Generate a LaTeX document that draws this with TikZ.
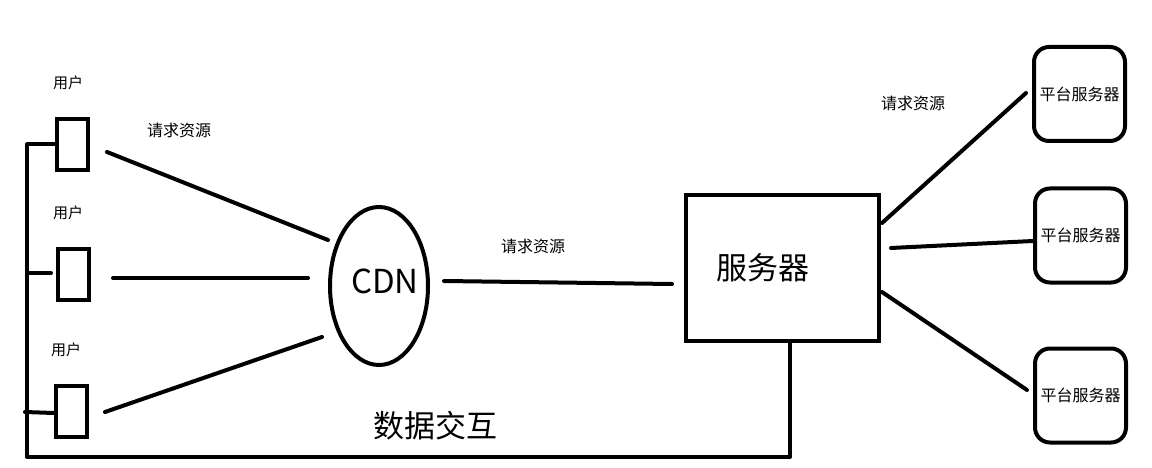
\documentclass[tikz,border=0pt]{standalone}
\usepackage{fontspec}
\setmainfont{Noto Sans CJK SC}
\usetikzlibrary{calc,shapes.geometric}
\begin{document}
\begin{tikzpicture}[x=1pt,y=-1pt,
  wire/.style={line width=4pt, line cap=round, line join=round},
  userbox/.style={draw, line width=4pt, minimum width=31pt, minimum height=51pt, inner sep=0pt},
  platbox/.style={draw, line width=4pt, rounded corners=15pt, minimum width=91pt, minimum height=94pt, inner sep=0pt,
    font=\fontsize{16}{18}\selectfont},
  small/.style={font=\fontsize{15}{17}\selectfont, inner sep=0pt},
  req/.style={font=\fontsize{16}{18}\selectfont, inner sep=0pt},
  big/.style={font=\fontsize{31}{34}\selectfont, inner sep=0pt}
]
\useasboundingbox (0,0) rectangle (1152,468);

% users
\node[userbox] (u1) at (72.5,144.5) {};
\node[userbox] (u2) at (73.5,274.5) {};
\node[userbox] (u3) at (71.5,411) {};
\node[small] (l1) at (68,83) {用户};
\node[small] (l2) at (68,213) {用户};
\node[small] (l3) at (66,350) {用户};

% CDN
\node[draw, ellipse, line width=4pt, minimum width=98pt, minimum height=158pt, inner sep=0pt,
  label={[font=\fontsize{33}{36}\selectfont, xshift=6pt, yshift=5pt]center:CDN}] (cdn) at (379,286) {};

% server
\node[draw, line width=4pt, minimum width=193pt, minimum height=146pt, inner sep=0pt,
  label={[big, xshift=-20pt]center:服务器}] (srv) at (782.5,268) {};

% platform servers
\node[platbox] (p1) at (1079.5,94) {平台服务器};
\node[platbox] (p2) at (1080.5,235.5) {平台服务器};
\node[platbox] (p3) at (1080.5,395.5) {平台服务器};

% labels
\node[req] (r1) at (179,130) {请求资源};
\node[req] (r2) at (533,246) {请求资源};
\node[req] (r3) at (913,103) {请求资源};
\node[big] (dx) at (435,426) {数据交互};

% user -> CDN
\draw[wire] ($(u1.east)+(17,7.5)$) -- ($(cdn.center)+(-51,-46)$);
\draw[wire] ($(u2.east)+(22,3.5)$) -- ($(cdn.west)+(-20,-8)$);
\draw[wire] ($(u3.east)+(16,1)$) -- ($(cdn.center)+(-57,51)$);

% CDN -> server
\draw[wire] ($(cdn.east)+(14,-5)$) -- ($(srv.west)+(-12,16)$);

% server -> platforms
\draw[wire] ($(srv.east)+(1,-45)$) -- ($(p1.west)+(-6,-1)$);
\draw[wire] ($(srv.east)+(10,-20)$) -- ($(p2.west)+(0,5.5)$);
\draw[wire] ($(srv.east)+(1,24)$) -- ($(p3.west)+(-6,-5.5)$);

% data exchange loop
\coordinate (sb) at ($(srv.south)+(7.5,0)$);
\coordinate (bl) at (27,457);
\draw[wire] (sb) |- (bl) |- (u1.west);
\draw[wire] ($(bl |- u2.west)+(0,-1.5)$) -- ($(u2.west)+(-5,-1.5)$);
\draw[wire] ($(bl |- u3.west)+(-2,1)$) -- ($(u3.west)+(0,2)$);
\end{tikzpicture}
\end{document}
